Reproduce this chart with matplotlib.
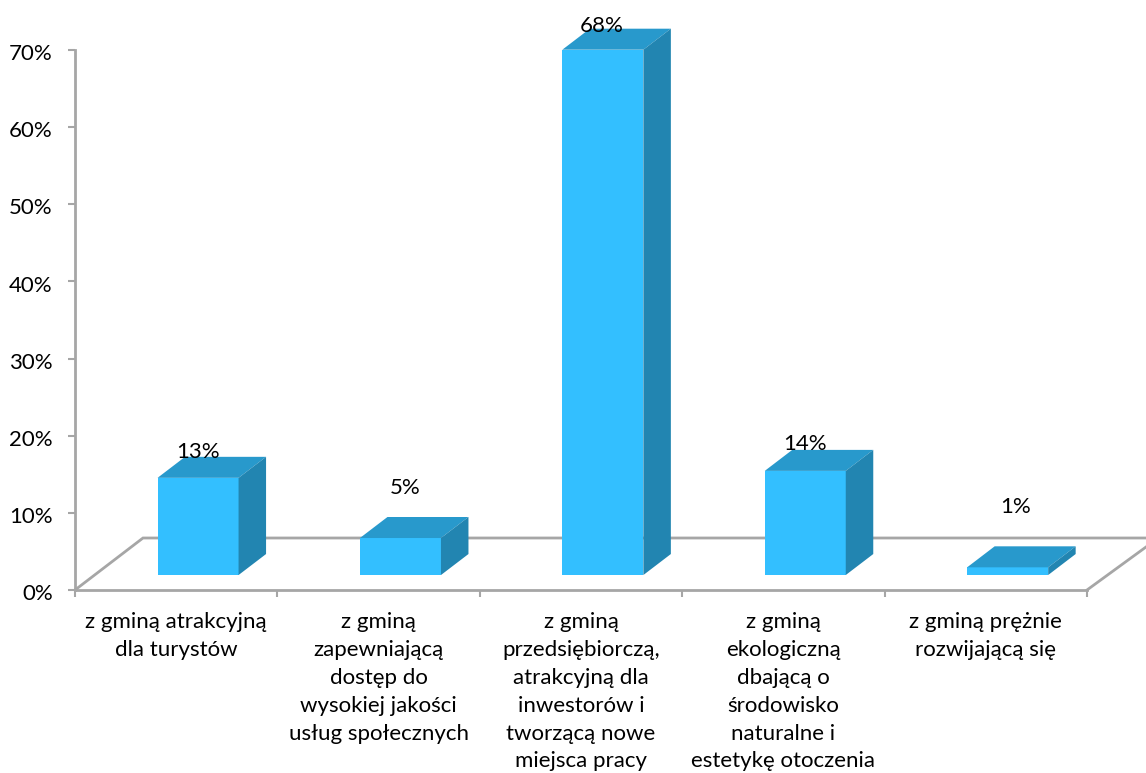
# -*- coding: utf-8 -*-
import matplotlib
matplotlib.use("Agg")
import matplotlib.pyplot as plt
from matplotlib.patches import Polygon
from matplotlib.transforms import ScaledTranslation

plt.rcParams['font.family'] = ['Lato', 'DejaVu Sans']

categories = ['z gminą atrakcyjną\ndla turystów',
              'z gminą\nzapewniającą\ndostęp do\nwysokiej jakości\nusług społecznych',
              'z gminą\nprzedsiębiorczą,\natrakcyjną dla\ninwestorów i\ntworzącą nowe\nmiejsca pracy',
              'z gminą\nekologiczną\ndbającą o\nśrodowisko\nnaturalne i\nestetykę otoczenia',
              'z gminą prężnie\nrozwijającą się']
bar_values = [12.6, 4.8, 68.1, 13.5, 1.0]
value_labels = ['13%', '5%', '68%', '14%', '1%']
yticks = [0, 10, 20, 30, 40, 50, 60, 70]

# label placement above each bar, in pixels (the original has them uneven)
label_dx = [0, 5, -1, 0, 8]
label_dy = [16, 40, 14, 17, 50]

FRONT = '#33bfff'
TOP = '#2899cc'
SIDE = '#2285b1'
GREY = '#a6a6a6'

W, H = 1146, 773
fig = plt.figure(figsize=(W / 100, H / 100), dpi=100)
ax = fig.add_axes([75 / W, 1 - 590 / H, (1087 - 75) / W, 540 / H])
ax.set_xlim(-0.5, 4.5)
ax.set_ylim(0, 70)

# size of the fake 3d depth in data units
dx = 27.5 / 202.4
dy = 21 / 7.714
base = 1.94
width = 81 / 202.4
shift = 0.108

# floor
floor_x = [-0.5, -0.5 + 68 / 202.4, 4.5 + 59 / 202.4]
floor_y = [0, 52 / 7.714, 52 / 7.714]
ax.plot(floor_x, floor_y, color=GREY, lw=2, clip_on=False, zorder=1, solid_joinstyle='miter')
ax.plot([4.5, 4.5 + 59 / 202.4], [0, 43 / 7.714], color=GREY, lw=2, clip_on=False, zorder=1)

for i, v in enumerate(bar_values):
    left = i + shift - width / 2
    right = left + width
    top = base + v
    ax.bar(i + shift, v, width, bottom=base, color=FRONT, zorder=3, clip_on=False)
    ax.add_patch(Polygon([(left, top), (left + dx, top + dy), (right + dx, top + dy), (right, top)],
                         closed=True, fc=TOP, ec='none', zorder=3, clip_on=False))
    ax.add_patch(Polygon([(right, base), (right + dx, base + dy), (right + dx, top + dy), (right, top)],
                         closed=True, fc=SIDE, ec='none', zorder=3, clip_on=False))
    ax.annotate(value_labels[i], (i + shift, top), xytext=(label_dx[i] * 0.72, label_dy[i] * 0.72),
                textcoords='offset points', ha='center', va='bottom', fontsize=16, color='black',
                zorder=5, annotation_clip=False)

for s in ['top', 'right']:
    ax.spines[s].set_visible(False)
for s in ['left', 'bottom']:
    ax.spines[s].set_color(GREY)
    ax.spines[s].set_linewidth(2)

ax.set_yticks(yticks)
ax.set_yticklabels([str(t) + '%' for t in yticks], fontsize=16, color='black')
ax.set_xticks([i - 0.5 for i in range(len(categories) + 1)])
ax.set_xticklabels([])
ax.set_xticks(range(len(categories)), minor=True)
ax.set_xticklabels(categories, minor=True, fontsize=16, color='black', linespacing=1.49, va='top')
ax.tick_params(axis='y', length=5, width=1.5, color=GREY, pad=11)
ax.tick_params(axis='x', which='major', length=5, width=1.5, color=GREY)
ax.tick_params(axis='x', which='minor', length=0, pad=16)

# y labels sit a little lower than the tick
nudge = ScaledTranslation(0, -1.5 / 72, fig.dpi_scale_trans)
for lab in ax.get_yticklabels():
    lab.set_transform(lab.get_transform() + nudge)

fig.savefig('out.png', dpi=100)
